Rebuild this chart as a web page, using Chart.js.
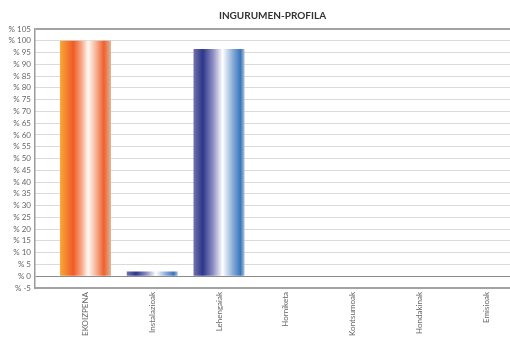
<!DOCTYPE html>
<html>
<head>
<meta charset="utf-8">
<script src="https://cdn.jsdelivr.net/npm/chart.js@4/dist/chart.umd.min.js"></script>
<style>
    html, body { margin: 0; padding: 0; background: #fff; overflow: hidden; }
    #wrap { width: 545px; height: 344px; position: relative; }
</style>
</head>
<body>
<div id="wrap"><canvas id="chart"></canvas></div>
<script>
// =======================================
// Ingurumen-profila: barra-grafikoa
// =======================================

const categories = ['EKOIZPENA', 'Instalazioak', 'Lehengaiak', 'Horniketa', 'Kontsumoak', 'Hondakinak', 'Emisioak'];
const values = [100, 2, 96.5, 0, 0, 0, 0];
const barPalettes = ['orange', 'blue', 'blue', 'blue', 'blue', 'blue', 'blue'];

const yMin = -5;
const yMax = 105;
const yStep = 5;
const yPrefix = '% ';

// koloreen gradienteak (ezkerretik eskuinera)
const gradientStops = {
    orange: [
        [0, '#f7a836'],
        [0.26, '#f15a26'],
        [0.42, '#f7a684'],
        [0.55, '#fffaf4'],
        [0.7, '#f6b699'],
        [0.86, '#f0602c'],
        [1, '#ddb89c'],
    ],
    blue: [
        [0, '#7272aa'],
        [0.18, '#2c378c'],
        [0.38, '#8c8cc2'],
        [0.57, '#ffffff'],
        [0.78, '#84a8d6'],
        [0.92, '#3877bd'],
        [1, '#aebfd8'],
    ],
};

const barPct = 0.764;

function barFill(ctx) {
    const chart = ctx.chart;
    const xs = chart.scales.x;
    const stops = gradientStops[barPalettes[ctx.dataIndex]] || gradientStops.blue;
    if (!xs || !chart.chartArea) return stops[1][1];
    const cx = xs.getPixelForValue(ctx.dataIndex);
    const half = (xs.getPixelForValue(1) - xs.getPixelForValue(0)) * barPct / 2;
    const g = chart.ctx.createLinearGradient(cx - half, 0, cx + half, 0);
    stops.forEach(([o, c]) => g.addColorStop(o, c));
    return g;
}

const points = values.map((v, i) => ({ x: i, y: v }));

new Chart(document.getElementById('chart').getContext('2d'), {
    type: 'bar',
    data: {
        labels: categories,
        datasets: [
            {
                data: points,
                backgroundColor: barFill,
                borderWidth: 0,
                categoryPercentage: 1,
                barPercentage: barPct,
            },
        ],
    },
    options: {
        responsive: true,
        maintainAspectRatio: false,
        animation: false,
        layout: { padding: { left: 0, right: 0, top: 0, bottom: 0 } },
        plugins: {
            legend: { display: false },
            tooltip: { enabled: false },
            title: {
                display: true,
                text: 'INGURUMEN-PROFILA',
                color: '#333',
                font: { family: 'Lato', size: 10, weight: 'bold' },
                padding: { top: 10, bottom: 7 },
            },
        },
        scales: {
            x: {
                type: 'linear',
                offset: false,
                min: -0.757,
                max: 6.884,
                afterBuildTicks: (axis) => {
                    axis.ticks = categories.map((_, i) => ({ value: i }));
                },
                afterFit: (axis) => { axis.height = 56; },
                grid: { display: false, drawTicks: false },
                border: { display: true, color: '#a3a3a3', width: 2 },
                ticks: {
                    autoSkip: false,
                    minRotation: 90,
                    maxRotation: 90,
                    padding: 4,
                    color: '#666',
                    font: { family: 'Lato', size: 8 },
                    callback: (v) => categories[v] ?? '',
                },
            },
            y: {
                min: yMin,
                max: yMax,
                afterFit: (axis) => { axis.width = 35; },
                grid: {
                    drawTicks: false,
                    color: (c) => {
                        const v = c.tick && c.tick.value;
                        if (v === yMax) return '#a3a3a3';
                        if (v === 0) return '#8a8a8a';
                        return '#b4b4b4';
                    },
                    lineWidth: (c) => (c.tick && c.tick.value === yMax ? 2 : 1),
                },
                border: {
                    display: true,
                    color: '#9a9a9a',
                    width: 1.5,
                    dash: (c) => {
                        const v = c.tick && c.tick.value;
                        return v === yMax || v === 0 ? [] : [1, 1];
                    },
                },
                ticks: {
                    stepSize: yStep,
                    autoSkip: false,
                    padding: 4,
                    color: '#666',
                    font: { family: 'Lato', size: 8 },
                    callback: (v) => yPrefix + v,
                },
            },
        },
    },
});
</script>
</body>
</html>
